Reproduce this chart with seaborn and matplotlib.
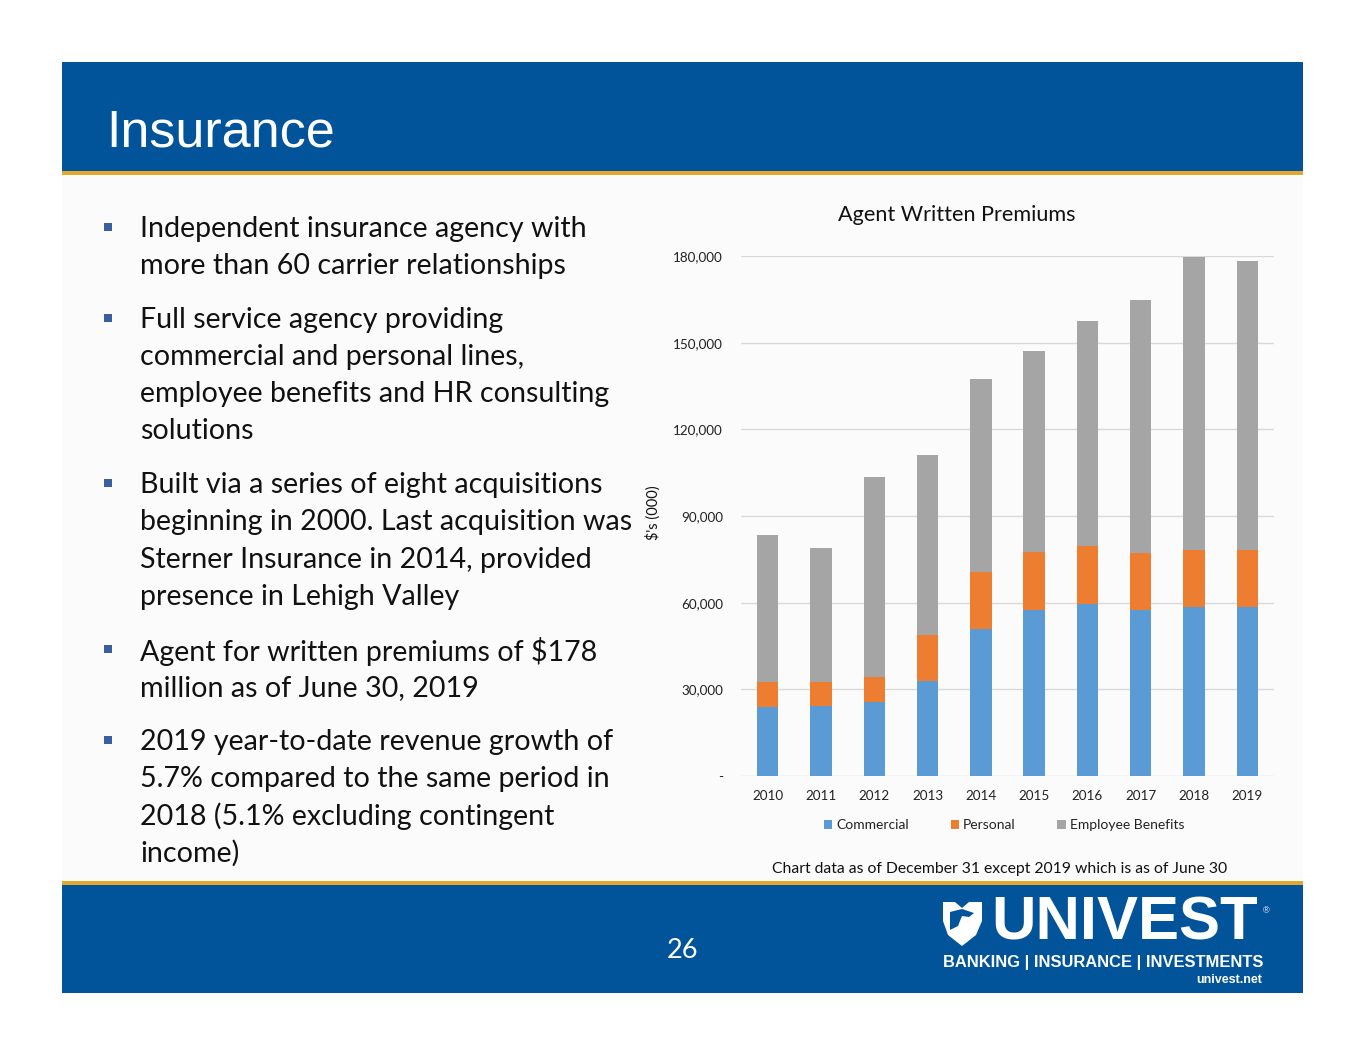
import numpy as np
import pandas as pd
import matplotlib
matplotlib.use("Agg")
import matplotlib.pyplot as plt
import seaborn as sns
from matplotlib.patches import Rectangle, Polygon, Patch

# ---------------- data ----------------
years = ["2010", "2011", "2012", "2013", "2014", "2015", "2016", "2017", "2018", "2019"]
commercial = [24000, 24300, 25600, 32800, 50900, 57500, 59600, 57600, 58600, 58400]
personal = [8650, 8350, 8670, 15900, 19600, 19900, 20000, 19500, 19600, 19700]
employee_benefits = [50800, 46300, 69100, 62400, 66800, 69700, 77800, 87600, 101600, 100300]
series_names = ["Commercial", "Personal", "Employee Benefits"]
ytick_values = [0, 30000, 60000, 90000, 120000, 150000, 180000]
ytick_labels = ["-", "30,000", "60,000", "90,000", "120,000", "150,000", "180,000"]

title_text = "Insurance"
chart_title = "Agent Written Premiums"
y_label = "$'s (000)"
footnote = "Chart data as of December 31 except 2019 which is as of June 30"
page_number = "26"
bullets = [
    ["Independent insurance agency with", "more than 60 carrier relationships"],
    ["Full service agency providing", "commercial and personal lines,",
     "employee benefits and HR consulting", "solutions"],
    ["Built via a series of eight acquisitions", "beginning in 2000. Last acquisition was",
     "Sterner Insurance in 2014, provided", "presence in Lehigh Valley"],
    ["Agent for written premiums of $178", "million as of June 30, 2019"],
    ["2019 year-to-date revenue growth of", "5.7% compared to the same period in",
     "2018 (5.1% excluding contingent", "income)"],
]

# ---------------- style ----------------
sns.set_style("white")
BODY = ["Lato", "DejaVu Sans"]
plt.rcParams["font.family"] = BODY

BLUE_HDR = "#01549A"
GOLD = "#E3A82B"
C_COM = "#5B9BD5"
C_PER = "#ED7D31"
C_EB = "#A5A5A5"
TXT = "#111111"

W, H = 1365, 1055
fig = plt.figure(figsize=(W / 100, H / 100), dpi=100)
fig.patch.set_facecolor("white")


def fx(x):
    return x / W


def fy(y):
    return 1 - y / H


def rect(x0, y0, x1, y1, color, z=0):
    fig.add_artist(Rectangle((fx(x0), fy(y1)), (x1 - x0) / W, (y1 - y0) / H,
                             transform=fig.transFigure, facecolor=color,
                             edgecolor="none", zorder=z))


# slide background + header/footer
rect(62, 62, 1303, 993, "#FBFBFB", z=0)
rect(62, 62, 1303, 171, BLUE_HDR, z=1)
rect(62, 171, 1303, 175, GOLD, z=1)
rect(62, 881, 1303, 885, GOLD, z=1)
rect(62, 885, 1303, 993, BLUE_HDR, z=1)

fig.text(fx(106), fy(133), title_text, color="white", fontsize=37.5,
         family=["Liberation Sans", "DejaVu Sans"], va="center", ha="left", zorder=3)

# bullets
line_ys = [
    [229, 266],
    [320, 357, 394, 431],
    [485, 522, 560, 597],
    [651, 688],
    [742, 779, 816, 853],
]
for lines, ys in zip(bullets, line_ys):
    rect(104, ys[0] - 6, 112, ys[0] + 2, "#3A5FA0", z=3)
    for t, yy in zip(lines, ys):
        fig.text(fx(140), fy(yy), t, color=TXT, fontsize=20.6, va="center", ha="left", zorder=3)

# ---------------- chart ----------------
ax = fig.add_axes([fx(741), fy(776), (1274 - 741) / W, (776 - 256) / H])
ax.set_facecolor("none")
df = pd.DataFrame({"Year": years, "Commercial": commercial,
                   "Personal": personal, "Employee Benefits": employee_benefits})
df["cum_personal"] = df["Commercial"] + df["Personal"]
df["cum_total"] = df["cum_personal"] + df["Employee Benefits"]

sns.barplot(data=df, x="Year", y="cum_total", color=C_EB, saturation=1, width=0.4,
            errorbar=None, ax=ax, linewidth=0, zorder=2)
sns.barplot(data=df, x="Year", y="cum_personal", color=C_PER, saturation=1, width=0.4,
            errorbar=None, ax=ax, linewidth=0, zorder=3)
sns.barplot(data=df, x="Year", y="Commercial", color=C_COM, saturation=1, width=0.4,
            errorbar=None, ax=ax, linewidth=0, zorder=4)

ax.set_ylim(0, 180000)
ax.set_xlim(-0.5, 9.5)
ax.set_yticks(ytick_values)
ax.set_yticklabels(ytick_labels)
ax.yaxis.grid(True, color="#D9D9D9", linewidth=1)
ax.set_axisbelow(True)
for s in ax.spines.values():
    s.set_visible(False)
ax.tick_params(axis="both", length=0, labelsize=9.7, colors="#222222")
ax.tick_params(axis="y", pad=13)
ax.tick_params(axis="x", pad=10)
ax.set_xlabel("")
ax.set_ylabel("")

fig.text(fx(957), fy(215), chart_title, fontsize=15.6, color=TXT, ha="center", va="center")
fig.text(fx(653), fy(513), y_label, fontsize=10.5, color=TXT, ha="center", va="center",
         rotation=90)

handles = [Patch(facecolor=c, edgecolor="none") for c in (C_COM, C_PER, C_EB)]
fig.legend(handles, series_names, loc="center", bbox_to_anchor=(fx(1004), fy(825)),
           ncol=3, frameon=False, fontsize=10, handlelength=0.6, handleheight=0.6,
           handletextpad=0.3, columnspacing=3.0, labelcolor="#222222")

fig.text(fx(1000), fy(869), footnote, fontsize=11.3, color=TXT, ha="center", va="center")

# ---------------- footer ----------------
fig.text(fx(683), fy(951), page_number, fontsize=19.5, color="white", ha="center", va="center")

shield = [(943, 902), (955, 902), (962, 908), (969, 902), (982, 902), (982, 921),
          (976, 935), (962, 946), (948, 935), (943, 921)]
fig.add_artist(Polygon([(fx(a), fy(b)) for a, b in shield], closed=True,
                       transform=fig.transFigure, facecolor="white", edgecolor="none", zorder=3))
head = [(950, 912), (962, 909), (974, 913), (969, 917), (962, 916), (958, 926), (950, 930)]
fig.add_artist(Polygon([(fx(a), fy(b)) for a, b in head], closed=True,
                       transform=fig.transFigure, facecolor=BLUE_HDR, edgecolor="none", zorder=4))
LOGO = ["Liberation Sans", "DejaVu Sans"]
fig.text(fx(991), fy(924), "UNIVEST", fontsize=44.3, fontweight="bold", color="white",
         family=LOGO, ha="left", va="center")
fig.text(fx(1263), fy(911), "\u00ae", fontsize=6.5, color="white", family=LOGO,
         ha="left", va="center")
fig.text(fx(943), fy(962), "BANKING | INSURANCE | INVESTMENTS", fontsize=11.85,
         fontweight="bold", color="white", family=LOGO, ha="left", va="center")
fig.text(fx(1262), fy(980), "univest.net", fontsize=9, fontweight="bold", color="white",
         family=LOGO, ha="right", va="center")

fig.savefig("out.png", dpi=100, facecolor="white")
